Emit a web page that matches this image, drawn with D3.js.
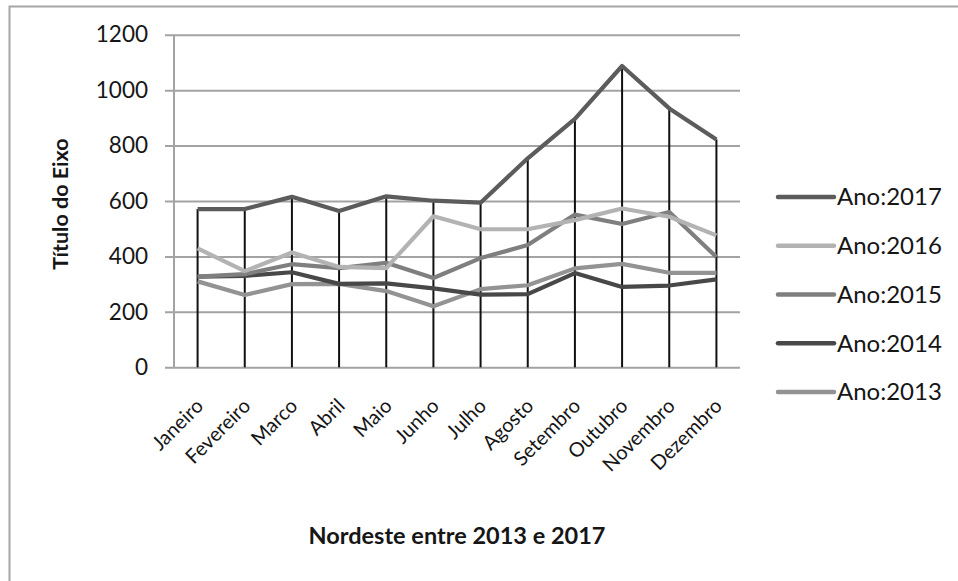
<!DOCTYPE html>
<html>
<head>
<meta charset="utf-8">
<script src="https://cdn.jsdelivr.net/npm/d3@7/dist/d3.min.js"></script>
<style>
  html, body { margin: 0; padding: 0; background: #fff; }
  svg { display: block; }
  text { font-family: Lato, "Open Sans", "DejaVu Sans", sans-serif; fill: #161616; }
</style>
</head>
<body>
<svg id="chart" width="958" height="581"></svg>
<script>
// Months on the category axis
const months = ["Janeiro", "Fevereiro", "Marco", "Abril", "Maio", "Junho",
                "Julho", "Agosto", "Setembro", "Outubro", "Novembro", "Dezembro"];

// Monthly values per year
const ano2017 = [571, 571, 615, 564, 617, 601, 594, 754, 896, 1087, 934, 822];
const ano2016 = [429, 347, 414, 362, 358, 545, 498, 498, 531, 573, 543, 476];
const ano2015 = [327, 336, 372, 358, 377, 322, 394, 441, 551, 517, 560, 398];
const ano2014 = [327, 330, 343, 301, 303, 285, 262, 264, 340, 290, 295, 317];
const ano2013 = [310, 261, 300, 301, 275, 220, 282, 296, 357, 373, 341, 341];

const seriesNames = ["Ano:2017", "Ano:2016", "Ano:2015", "Ano:2014", "Ano:2013"];
const seriesValues = [ano2017, ano2016, ano2015, ano2014, ano2013];
const seriesColors = ["#5c5c5c", "#b3b3b3", "#7f7f7f", "#484848", "#939393"];

const yTicks = [0, 200, 400, 600, 800, 1000, 1200];

const svg = d3.select("#chart");

// Outer chart frame
svg.append("rect")
  .attr("x", 9.5).attr("y", 6.5)
  .attr("width", 960).attr("height", 600)
  .attr("fill", "none").attr("stroke", "#a6a6a6").attr("stroke-width", 2);

const plot = { left: 174, right: 740, top: 34.7, bottom: 367.3 };

const x = d3.scaleBand().domain(months).range([plot.left, plot.right]).padding(0);
const cx = m => x(m) + x.bandwidth() / 2;
const y = d3.scaleLinear().domain([0, 1200]).range([plot.bottom, plot.top]);

// Horizontal gridlines with tick marks
const yAxis = d3.axisLeft(y).tickValues(yTicks).tickSize(plot.right - plot.left + 9)
  .tickPadding(17).tickFormat(d3.format("d"));
const gy = svg.append("g").attr("transform", `translate(${plot.right},0)`).call(yAxis);
gy.select(".domain").remove();
gy.selectAll(".tick line").attr("stroke", "#a3a3a3").attr("stroke-width", 2);
gy.selectAll(".tick text")
  .attr("font-size", 22.5)
  .attr("font-family", "Lato, 'Open Sans', sans-serif")
  .attr("fill", "#161616");

// Vertical value axis line
svg.append("line")
  .attr("x1", plot.left).attr("x2", plot.left)
  .attr("y1", plot.top).attr("y2", plot.bottom)
  .attr("stroke", "#a3a3a3").attr("stroke-width", 2);

// Drop lines from the highest point of each month down to the axis
const maxPerMonth = months.map((m, i) => d3.max(seriesValues, s => s[i]));
svg.append("g").selectAll("line").data(months).join("line")
  .attr("x1", d => cx(d)).attr("x2", d => cx(d))
  .attr("y1", (d, i) => y(maxPerMonth[i])).attr("y2", y(0))
  .attr("stroke", "#111").attr("stroke-width", 2);

// Series lines, drawn oldest first so 2017 sits on top
const line = d3.line().x((d, i) => cx(months[i])).y(d => y(d));
const order = [4, 3, 2, 1, 0];
svg.append("g").selectAll("path").data(order).join("path")
  .attr("d", k => line(seriesValues[k]))
  .attr("fill", "none")
  .attr("stroke", k => seriesColors[k])
  .attr("stroke-width", 4.2)
  .attr("stroke-linejoin", "round");

// Category labels, rotated
svg.append("g").selectAll("text").data(months).join("text")
  .attr("transform", d => `translate(${cx(d) + 2},${plot.bottom + 35}) rotate(-45)`)
  .attr("text-anchor", "end")
  .attr("dy", "0.35em")
  .attr("font-size", 20)
  .text(d => d);

// Axis titles
svg.append("text")
  .attr("transform", `translate(60,204) rotate(-90)`)
  .attr("text-anchor", "middle").attr("dy", "0.35em")
  .attr("font-size", 21.5).attr("font-weight", "bold")
  .text("Título do Eixo");

svg.append("text")
  .attr("x", (plot.left + plot.right) / 2).attr("y", 536)
  .attr("text-anchor", "middle").attr("dy", "0.35em")
  .attr("font-size", 23.5).attr("font-weight", "bold")
  .text("Nordeste entre 2013 e 2017");

// Legend
const legendY = d3.scalePoint().domain(seriesNames).range([197, 392]);
const lg = svg.append("g").selectAll("g").data(seriesNames).join("g")
  .attr("transform", d => `translate(778,${legendY(d)})`);
lg.append("line")
  .attr("x1", 0).attr("x2", 56).attr("y1", 0).attr("y2", 0)
  .attr("stroke", (d, i) => seriesColors[i]).attr("stroke-width", 4.5)
  .attr("stroke-linecap", "round");
lg.append("text")
  .attr("x", 59).attr("dy", "0.35em")
  .attr("font-size", 24)
  .text(d => d);
</script>
</body>
</html>
